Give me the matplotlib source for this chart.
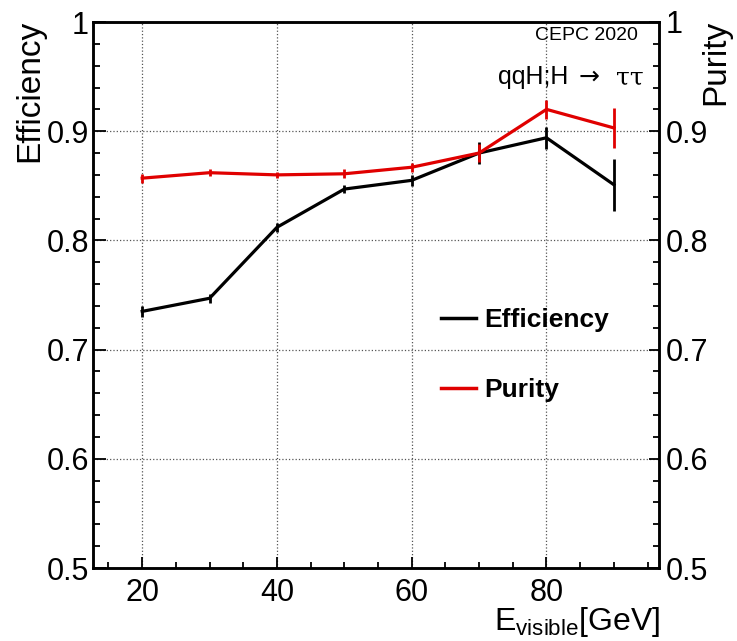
import matplotlib
matplotlib.use("Agg")
import matplotlib.pyplot as plt
from matplotlib.ticker import MultipleLocator, FormatStrFormatter
from matplotlib.lines import Line2D

plt.rcParams['font.family'] = ['Liberation Sans', 'DejaVu Sans']
plt.rcParams['mathtext.fontset'] = 'custom'
plt.rcParams['mathtext.rm'] = 'Liberation Sans'
plt.rcParams['mathtext.it'] = 'Liberation Sans'
plt.rcParams['mathtext.default'] = 'regular'

# data
energy = [20, 30, 40, 50, 60, 70, 80, 90]
efficiency = [0.735, 0.747, 0.812, 0.847, 0.855, 0.880, 0.894, 0.851]
efficiency_err = [0.005, 0.004, 0.004, 0.004, 0.005, 0.010, 0.010, 0.024]
purity = [0.857, 0.862, 0.860, 0.861, 0.867, 0.880, 0.920, 0.903]
purity_err = [0.004, 0.003, 0.003, 0.004, 0.004, 0.008, 0.009, 0.018]

W, H = 737, 641
fig = plt.figure(figsize=(W / 100, H / 100), dpi=100)
left, right, top, bottom = 93, 659, 22, 568
ax = fig.add_axes([left / W, 1 - bottom / H, (right - left) / W, (bottom - top) / H])

red = '#e00000'
ax.errorbar(energy, efficiency, yerr=efficiency_err, color='black', lw=2.3,
            elinewidth=2.0, capsize=0, zorder=3)
ax.errorbar(energy, purity, yerr=purity_err, color=red, lw=2.3,
            elinewidth=2.0, capsize=0, zorder=4)

ax.set_xlim(12.7, 96.7)
ax.set_ylim(0.5, 1.0)
ax.xaxis.set_major_locator(MultipleLocator(20))
ax.xaxis.set_minor_locator(MultipleLocator(5))
ax.yaxis.set_major_locator(MultipleLocator(0.1))
ax.yaxis.set_minor_locator(MultipleLocator(0.02))
ax.yaxis.set_major_formatter(FormatStrFormatter('%g'))
ax.grid(True, which='major', ls=':', color='#555555', lw=0.9)
ax.tick_params(which='both', direction='in', top=False, right=False, width=1.3)
ax.tick_params(axis='y', which='major', length=9, labelsize=22, pad=3)
ax.tick_params(axis='y', which='minor', length=5)
ax.tick_params(axis='x', which='major', length=8, labelsize=22, pad=7)
ax.tick_params(axis='x', which='minor', length=4)
for s in ax.spines.values():
    s.set_linewidth(1.8)

# right axis for purity
ax2 = ax.twinx()
ax2.set_ylim(0.5, 1.0)
ax2.yaxis.set_major_locator(MultipleLocator(0.1))
ax2.yaxis.set_minor_locator(MultipleLocator(0.02))
ax2.yaxis.set_major_formatter(FormatStrFormatter('%g'))
ax2.tick_params(which='both', direction='in', width=1.3)
ax2.tick_params(which='major', length=7, labelsize=22, pad=5)
ax2.tick_params(which='minor', length=4)
for s in ax2.spines.values():
    s.set_linewidth(1.8)

# axis titles
fig.text(30 / W, 1 - 20 / H, 'Efficiency', rotation=90, ha='center', va='top', fontsize=24)
fig.text(716 / W, 1 - 20 / H, 'Purity', rotation=90, ha='center', va='top', fontsize=24)
fig.text(660 / W, 1 - 639 / H, r'E$_{visible}$[GeV]', ha='right', va='bottom', fontsize=23)

# labels in the corner
fig.text(638 / W, 1 - 35 / H, 'CEPC 2020', ha='right', va='center', fontsize=14)
fig.text(498 / W, 1 - 84 / H, 'qqH;H', ha='left', va='baseline', fontsize=18)
fig.text(579 / W, 1 - 84 / H, '\u2192', ha='left', va='baseline', fontsize=18,
         family=['DejaVu Sans'])
fig.text(644 / W, 1 - 84 / H, '\u03c4\u03c4', ha='right', va='baseline', fontsize=18,
         family=['DejaVu Serif'])

handles = [Line2D([], [], color='black', lw=2.5), Line2D([], [], color=red, lw=2.5)]
ax.legend(handles, ['Efficiency', 'Purity'], loc='upper left',
          bbox_to_anchor=(428 / W, 1 - 295 / H), bbox_transform=fig.transFigure,
          frameon=False, borderpad=0, handlelength=1.3, handletextpad=0.35,
          labelspacing=1.75, prop={'weight': 'bold', 'size': 19})

fig.savefig('out.png', dpi=100)
